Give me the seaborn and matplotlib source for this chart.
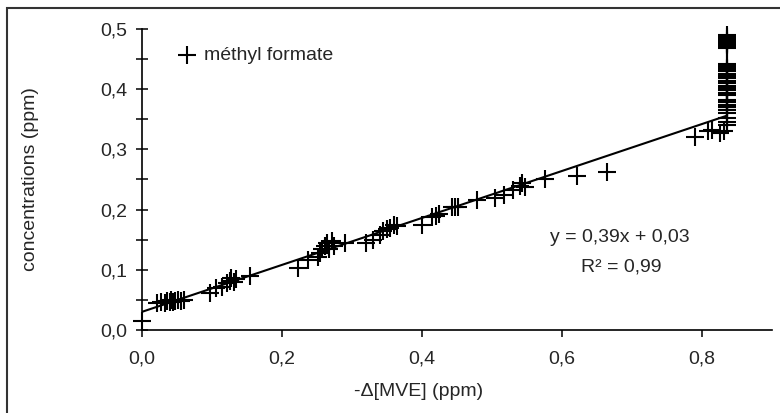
import matplotlib
matplotlib.use("Agg")
import matplotlib.pyplot as plt
import matplotlib.ticker as mticker
from matplotlib.patches import Rectangle
import seaborn as sns
import pandas as pd

# ---- data ----
x_mve = [0.0,
         0.022, 0.028, 0.033, 0.036, 0.040, 0.042, 0.045, 0.048, 0.052, 0.056, 0.060,
         0.097, 0.106, 0.115, 0.122, 0.126, 0.128, 0.132, 0.135, 0.155,
         0.223, 0.238, 0.252, 0.255, 0.258, 0.262, 0.265, 0.268, 0.272, 0.275, 0.290,
         0.321, 0.330, 0.340, 0.345, 0.350, 0.355, 0.360, 0.365,
         0.400, 0.414, 0.420, 0.425, 0.443, 0.448, 0.452,
         0.479, 0.505, 0.518, 0.530, 0.540, 0.543, 0.548, 0.576,
         0.622, 0.664,
         0.790, 0.809, 0.814, 0.826, 0.832,
         0.836, 0.836, 0.836, 0.836, 0.836, 0.836, 0.836, 0.836, 0.836, 0.836,
         0.836, 0.836, 0.836, 0.836, 0.836, 0.836, 0.836, 0.836, 0.836, 0.836,
         0.836, 0.836, 0.836, 0.836, 0.836, 0.836, 0.836, 0.836, 0.836, 0.836,
         0.836, 0.836, 0.836, 0.836, 0.836]
y_conc = [0.015,
          0.045, 0.047, 0.045, 0.048, 0.047, 0.050, 0.046, 0.049, 0.050, 0.048, 0.050,
          0.062, 0.070, 0.072, 0.078, 0.082, 0.086, 0.080, 0.084, 0.090,
          0.103, 0.116, 0.122, 0.128, 0.135, 0.140, 0.145, 0.135, 0.148, 0.140, 0.145,
          0.145, 0.150, 0.158, 0.165, 0.168, 0.170, 0.175, 0.172,
          0.174, 0.188, 0.190, 0.193, 0.205, 0.205, 0.205,
          0.216, 0.219, 0.225, 0.232, 0.240, 0.244, 0.238, 0.251,
          0.255, 0.262,
          0.321, 0.330, 0.332, 0.328, 0.330,
          0.340, 0.345, 0.352, 0.360, 0.366, 0.370, 0.374, 0.378, 0.382, 0.390,
          0.394, 0.398, 0.402, 0.406, 0.410, 0.414, 0.418, 0.422, 0.426, 0.430,
          0.434, 0.438, 0.442, 0.468, 0.471, 0.474, 0.477, 0.480, 0.483, 0.486,
          0.490, 0.475, 0.436, 0.400, 0.371]
fit_slope = 0.39
fit_intercept = 0.03
fit_x = [0.0, 0.836]
series_label = "méthyl formate"
eq_label = "y = 0,39x + 0,03"
r2_label = "R² = 0,99"
x_title = "-Δ[MVE] (ppm)"
y_title = "concentrations (ppm)"

df = pd.DataFrame({"x": x_mve, "y": y_conc})
fit_df = pd.DataFrame({"x": fit_x, "y": [fit_slope * v + fit_intercept for v in fit_x]})

sns.set_theme(style="white")
plt.rcParams["font.family"] = ["Liberation Sans", "DejaVu Sans"]
FS = 14

fig = plt.figure(figsize=(7.8, 4.13), dpi=100)
fig.patch.set_facecolor("white")
ax = fig.add_axes([141.7 / 780, 1 - 330 / 413, 630 / 780, 301 / 413])

sns.lineplot(data=fit_df, x="x", y="y", ax=ax, color="black", linewidth=1.5)
sns.scatterplot(data=df, x="x", y="y", ax=ax, marker="+", s=150, color="black",
                linewidth=1.5, legend=False, clip_on=False, zorder=3)

ax.set_xlim(0, 0.9)
ax.set_ylim(0, 0.5)
ax.xaxis.set_major_locator(mticker.FixedLocator([0, 0.2, 0.4, 0.6, 0.8]))
ax.yaxis.set_major_locator(mticker.MultipleLocator(0.1))
ax.yaxis.set_minor_locator(mticker.MultipleLocator(0.05))
fmt = mticker.FuncFormatter(lambda v, p: f"{v:.1f}".replace(".", ","))
ax.xaxis.set_major_formatter(fmt)
ax.yaxis.set_major_formatter(fmt)

for s in ["top", "right"]:
    ax.spines[s].set_visible(False)
for s in ["left", "bottom"]:
    ax.spines[s].set_color("black")
    ax.spines[s].set_linewidth(1.2)

ax.tick_params(axis="y", which="both", direction="inout", length=9, width=1.1,
               color="black", labelsize=FS, pad=6, left=True)
ax.tick_params(axis="x", which="major", direction="out", length=5, width=1.1,
               color="black", labelsize=FS, pad=10, bottom=True)
ax.grid(False)

ax.set_xlabel(x_title, fontsize=FS)
ax.set_ylabel(y_title, fontsize=FS)
ax.xaxis.set_label_coords(0.44, -0.175)
ax.yaxis.set_label_coords(-0.163, 0.5)

# legend-like label
h = ax.scatter([], [], marker="+", s=150, color="black", linewidth=1.5)
fig.legend([h], [series_label], loc="center left", bbox_to_anchor=(170 / 780, 1 - 55 / 413),
           frameon=False, handlelength=0.7, handletextpad=0.55, borderpad=0, fontsize=FS)

ax.text(620 / 780, 1 - 237 / 413, eq_label, transform=fig.transFigure,
        ha="center", va="center", fontsize=FS)
ax.text(621 / 780, 1 - 267 / 413, r2_label, transform=fig.transFigure,
        ha="center", va="center", fontsize=FS)

fig.patches.append(Rectangle((7 / 780, -0.2), 1.3, 1.2 - 8 / 413, transform=fig.transFigure,
                             fill=False, edgecolor="#333333", linewidth=1.5))

fig.savefig("out.png", dpi=100)
